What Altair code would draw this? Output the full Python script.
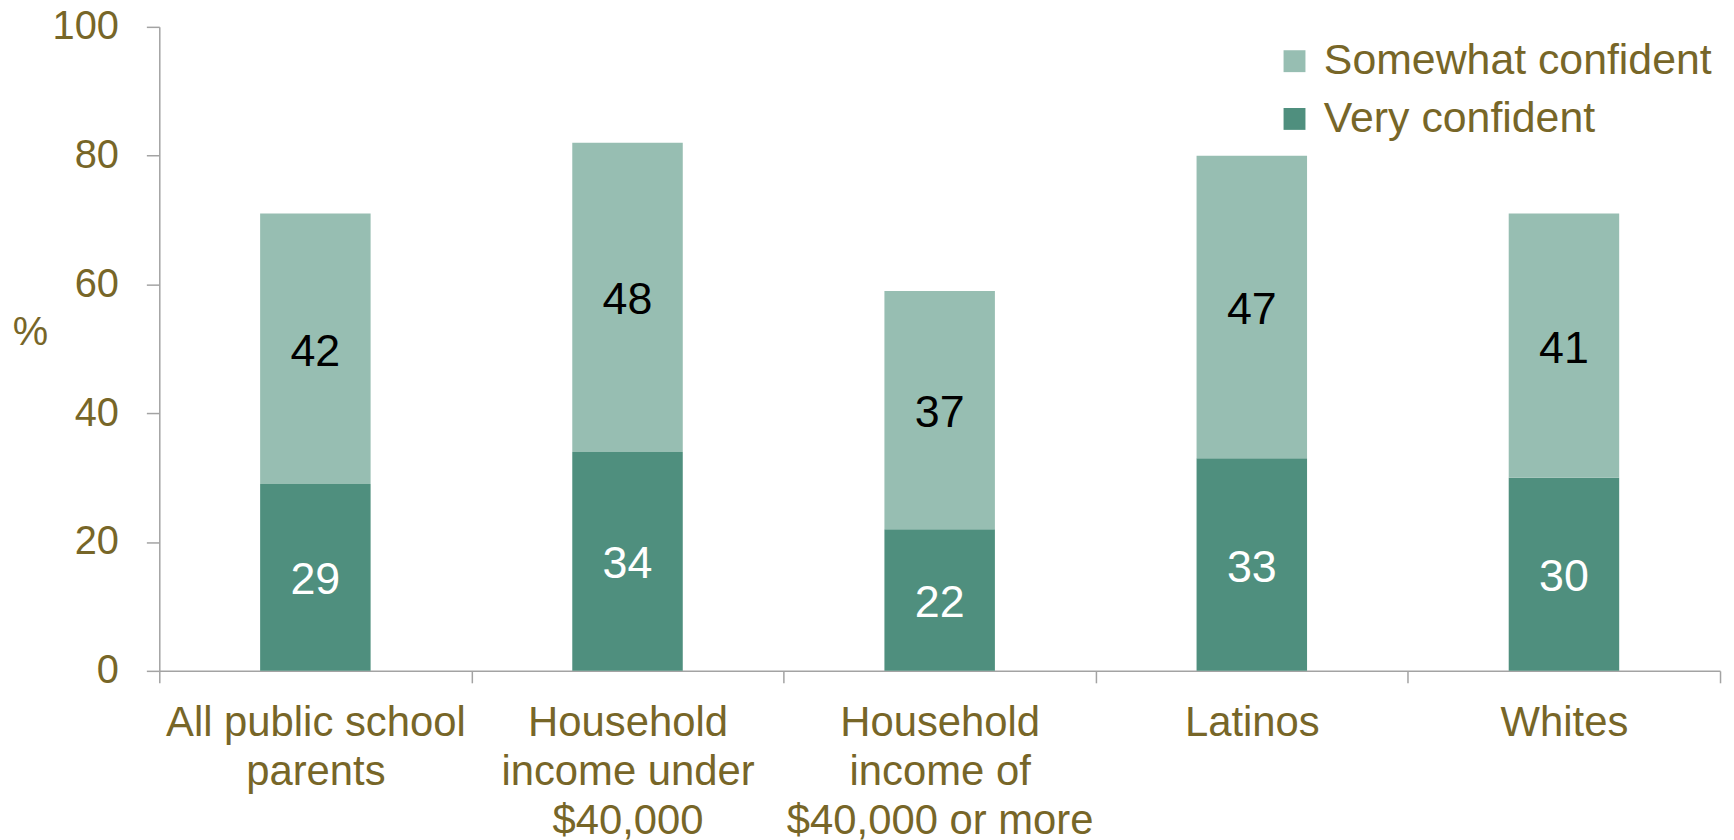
import altair as alt
import pandas as pd

# ---- data ----
categories = [
    "All public school|parents",
    "Household|income under|$40,000",
    "Household|income of|$40,000 or more",
    "Latinos",
    "Whites",
]
very_confident = [29, 34, 22, 33, 30]
somewhat_confident = [42, 48, 37, 47, 41]
series_names = ["Somewhat confident", "Very confident"]
series_colors = ["#97beb2", "#4f8f7e"]
y_ticks = [0, 20, 40, 60, 80, 100]

FONT = "Liberation Sans"
OLIVE = "#776628"
GRAY = "#a3a3a3"

rows = []
for c, v, s in zip(categories, very_confident, somewhat_confident):
    rows.append(dict(category=c, series="Very confident", value=v, start=0, end=v))
    rows.append(dict(category=c, series="Somewhat confident", value=s, start=v, end=v + s))
df = pd.DataFrame(rows)
df["mid"] = (df["start"] + df["end"]) / 2

x_enc = alt.X(
    "category:N",
    sort=categories,
    scale=alt.Scale(paddingInner=0, paddingOuter=0),
    axis=alt.Axis(
        title=None,
        labelExpr="split(datum.label, '|')",
        labelAngle=0,
        labelAlign="center",
        labelBaseline="top",
        labelFont=FONT,
        labelFontSize=42,
        labelColor=OLIVE,
        labelLineHeight=49,
        labelPadding=20,
        labelLimit=1000,
        tickBand="extent",
        tickSize=12,
        tickColor=GRAY,
        tickWidth=1.5,
        domainColor=GRAY,
        domainWidth=1.5,
        grid=False,
    ),
)

y_enc = alt.Y(
    "start:Q",
    scale=alt.Scale(domain=[0, 100], nice=False),
    axis=alt.Axis(
        values=y_ticks,
        title="%",
        titleAngle=0,
        titleX=-130,
        titleY=307,
        titleAlign="center",
        titleBaseline="middle",
        titleFont=FONT,
        titleFontSize=40,
        titleFontWeight="normal",
        titleColor=OLIVE,
        labelFont=FONT,
        labelFontSize=40,
        labelColor=OLIVE,
        labelPadding=28,
        tickSize=13,
        tickColor=GRAY,
        tickWidth=1.5,
        domainColor=GRAY,
        domainWidth=1.5,
        grid=False,
    ),
)

bars = alt.Chart(df).mark_bar(size=111).encode(
    x=x_enc,
    y=y_enc,
    y2="end:Q",
    color=alt.Color(
        "series:N",
        scale=alt.Scale(domain=series_names, range=series_colors),
        legend=alt.Legend(
            title=None,
            orient="none",
            legendX=1119,
            legendY=13,
            padding=0,
            symbolType="square",
            symbolSize=484,
            symbolStrokeWidth=0,
            labelFont=FONT,
            labelFontSize=43,
            labelColor=OLIVE,
            labelOffset=8,
            labelLimit=1000,
            rowPadding=14,
        ),
    ),
)

text = alt.Chart(df).mark_text(font=FONT, fontSize=45, baseline="middle", align="center", dy=3).encode(
    x=alt.X("category:N", sort=categories),
    y=alt.Y("mid:Q"),
    text="value:Q",
    color=alt.condition(
        alt.datum.series == "Very confident", alt.value("white"), alt.value("black")
    ),
)

chart = (
    alt.layer(bars, text)
    .properties(
        width=1568,
        height=647,
        autosize=alt.AutoSizeParams(type="none"),
        padding={"left": 152, "top": 17, "right": 6, "bottom": 168},
    )
    .configure_view(stroke=None)
)

chart.save("out.html", embed_options={"renderer": "svg", "actions": False})
